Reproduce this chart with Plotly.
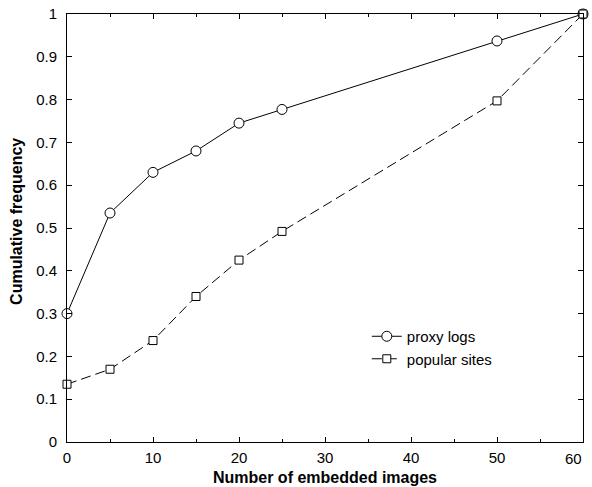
import plotly.graph_objects as go

x_vals = [0, 5, 10, 15, 20, 25, 50, 60]
proxy_logs = [0.30, 0.535, 0.63, 0.68, 0.745, 0.777, 0.937, 1.0]
popular_sites = [0.135, 0.17, 0.237, 0.34, 0.425, 0.492, 0.797, 1.0]
x_ticks = [0, 10, 20, 30, 40, 50, 60]
x_tick_text = ["0", "10", "20", "30", "40", "50", ""]
x_last_label = "60"
y_ticks = [0, 0.1, 0.2, 0.3, 0.4, 0.5, 0.6, 0.7, 0.8, 0.9, 1]
y_tick_text = ["0", "0.1", "0.2", "0.3", "0.4", "0.5", "0.6", "0.7", "0.8", "0.9", "1"]

FONT = "Liberation Sans, Arial, Helvetica, sans-serif"

fig = go.Figure()
fig.add_trace(go.Scatter(
    x=x_vals, y=proxy_logs, name="proxy logs", mode="lines+markers",
    line=dict(color="black", width=1),
    marker=dict(symbol="circle", size=10, color="white", line=dict(color="black", width=1)),
    cliponaxis=False,
))
fig.add_trace(go.Scatter(
    x=x_vals, y=popular_sites, name="popular sites", mode="lines+markers",
    line=dict(color="black", width=1, dash="10px,5px"),
    marker=dict(symbol="square", size=8, color="white", line=dict(color="black", width=1)),
    cliponaxis=False,
))

axis_common = dict(
    automargin=False,
    showgrid=False, zeroline=False, showline=True, linecolor="black", linewidth=1,
    mirror="ticks", ticks="inside", ticklen=5, tickcolor="black", tickwidth=1,
    tickfont=dict(family=FONT, size=15, color="black"),
)

# Last x tick label is right-aligned to the axis end, as in the reference
fig.add_annotation(
    x=x_ticks[-1], xref="x", y=0, yref="y",
    text=x_last_label, showarrow=False,
    xanchor="right", yanchor="middle", yshift=-16, xshift=1,
    font=dict(family=FONT, size=15, color="black"),
)

fig.update_layout(
    template="none",
    width=592, height=487,
    margin=dict(l=67, r=9, t=14, b=45, autoexpand=False),
    paper_bgcolor="white", plot_bgcolor="white",
    showlegend=True,
    legend=dict(
        x=0.581, y=0.285, xanchor="left", yanchor="top",
        bgcolor="rgba(0,0,0,0)", borderwidth=0,
        font=dict(family=FONT, size=15, color="black"),
        tracegroupgap=0,
    ),
    xaxis=dict(
        range=[0, 60], tickvals=x_ticks, ticktext=x_tick_text,
        ticklabelstandoff=2,
        minor=dict(ticks="inside", ticklen=3, tickcolor="black", dtick=5, tick0=0, showgrid=False),
        title=dict(text="<b>Number of embedded images</b>", standoff=6,
                   font=dict(family=FONT, size=16, color="black")),
        **axis_common,
    ),
    yaxis=dict(
        range=[0, 1], tickvals=y_ticks, ticktext=y_tick_text,
        ticklabelstandoff=6,
        title=dict(text="<b>\u00a0\u00a0\u00a0Cumulative frequency</b>", standoff=9,
                   font=dict(family=FONT, size=16, color="black")),
        **axis_common,
    ),
)

fig.write_html(
    "out.html",
    config={"displayModeBar": False},
    post_script="document.body.style.margin='0';document.body.style.overflow='hidden';",
)
